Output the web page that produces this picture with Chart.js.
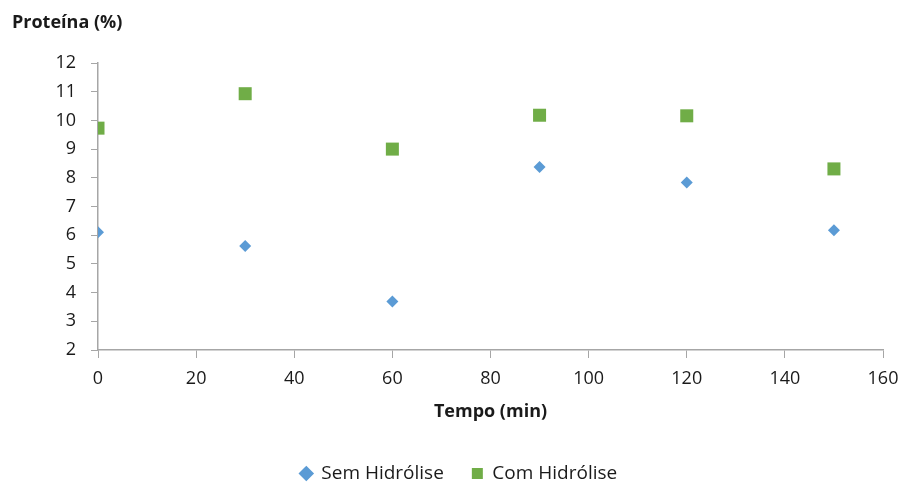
<!DOCTYPE html>
<html>
<head>
<meta charset="utf-8">
<script src="https://cdn.jsdelivr.net/npm/chart.js@4"></script>
<style>
  body { margin: 0; background: #fff; }
</style>
</head>
<body>
<canvas id="proteinChart" width="901" height="484"></canvas>
<script>
const tempos = [0, 30, 60, 90, 120, 150];
const semHidrolise = [6.1, 5.62, 3.69, 8.38, 7.84, 6.17];
const comHidrolise = [9.73, 10.93, 9.0, 10.18, 10.16, 8.31];

const toPoints = (xs, ys) => xs.map((x, i) => ({ x: x, y: ys[i] }));

const fontFamily = "'Open Sans', 'DejaVu Sans', sans-serif";
const textColor = "#1a1a1a";
const axisColor = "#a6a6a6";

// y axis title sits horizontally at top-left
const yTitle = {
  id: "yTitle",
  afterDraw(chart) {
    const c = chart.ctx;
    c.save();
    c.font = "bold 18px " + fontFamily;
    c.fillStyle = textColor;
    c.textBaseline = "middle";
    c.fillText("Proteína (%)", 12, 23);
    c.restore();
  },
};

const ctx = document.getElementById("proteinChart");

new Chart(ctx, {
  type: "scatter",
  data: {
    datasets: [
      {
        label: "Sem Hidrólise",
        data: toPoints(tempos, semHidrolise),
        pointStyle: "rectRot",
        pointRadius: 6,
        pointHoverRadius: 6,
        backgroundColor: "#5b9bd5",
        borderColor: "#5b9bd5",
        borderWidth: 0,
      },
      {
        label: "Com Hidrólise",
        data: toPoints(tempos, comHidrolise),
        pointStyle: "rect",
        pointRadius: 9.2,
        pointHoverRadius: 9.2,
        backgroundColor: "#70ad47",
        borderColor: "#70ad47",
        borderWidth: 0,
      },
    ],
  },
  options: {
    responsive: false,
    animation: false,
    layout: {
      padding: { top: 63, left: 17, right: 0, bottom: -9 },
    },
    plugins: {
      tooltip: { enabled: false },
      legend: {
        position: "bottom",
        labels: {
          usePointStyle: true,
          boxWidth: 11,
          boxHeight: 11,
          padding: 28,
          color: textColor,
          font: { family: fontFamily, size: 19 },
        },
      },
    },
    scales: {
      x: {
        type: "linear",
        min: 0,
        max: 160,
        ticks: {
          stepSize: 20,
          color: textColor,
          padding: 10,
          font: { family: fontFamily, size: 18 },
        },
        grid: {
          display: true,
          drawOnChartArea: false,
          drawTicks: true,
          tickLength: 8,
          color: axisColor,
        },
        border: { color: axisColor, width: 1.5 },
        title: {
          display: true,
          text: "Tempo (min)",
          color: textColor,
          font: { family: fontFamily, size: 18, weight: "bold" },
          padding: { top: 10, bottom: 13 },
        },
        afterFit(scale) {
          scale.height = 86;
          scale.paddingRight = 18;
        },
      },
      y: {
        min: 2,
        max: 12,
        ticks: {
          stepSize: 1,
          color: textColor,
          padding: 15,
          font: { family: fontFamily, size: 18 },
        },
        grid: {
          display: true,
          drawOnChartArea: false,
          drawTicks: true,
          tickLength: 7,
          color: axisColor,
        },
        border: { color: axisColor, width: 1.5 },
        afterFit(scale) {
          scale.width = 81;
        },
      },
    },
  },
  plugins: [yTitle],
});
</script>
</body>
</html>
